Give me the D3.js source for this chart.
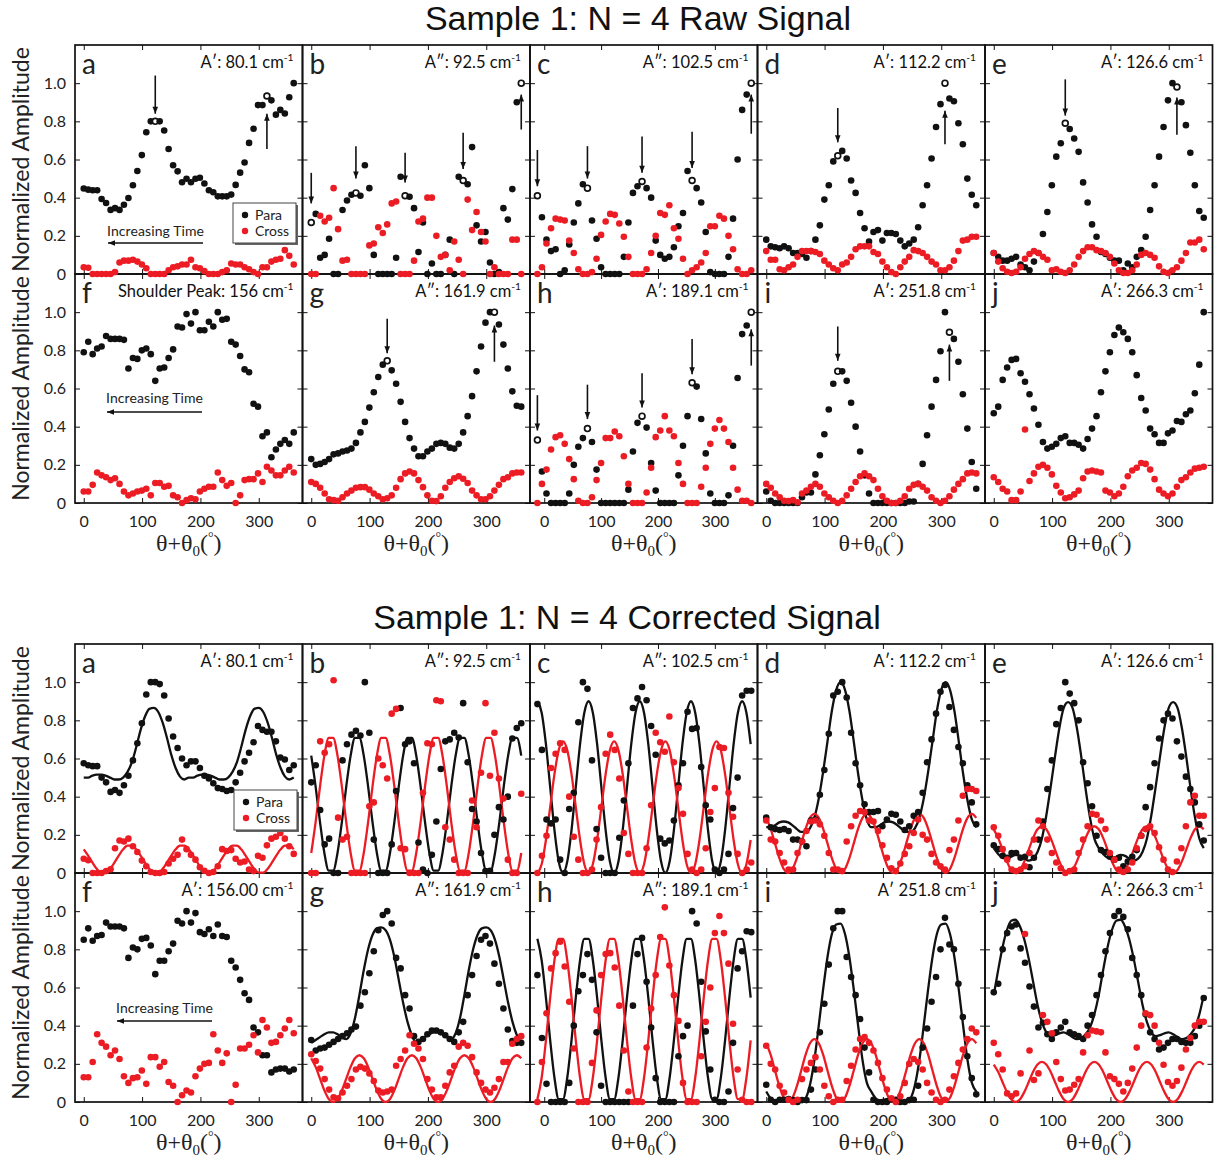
<!DOCTYPE html>
<html>
<head>
<meta charset="utf-8">
<script src="https://cdn.jsdelivr.net/npm/d3@7"></script>
<style>
body { margin: 0; background: #fff; }
</style>
</head>
<body>
<svg id="fig"></svg>
<script>
// angle grids (deg)
let ANGLES = [0,7.7,15.3,23,30.6,38.3,46,53.6,61.3,68.9,76.6,84.3,91.9,99.6,107.2,114.9,122.6,130.2,137.9,145.5,153.2,160.9,168.5,176.2,183.8,191.5,199.1,206.8,214.5,222.1,229.8,237.4,245.1,252.8,260.4,268.1,275.7,283.4,291.1,298.7,306.4,314,321.7,329.4,337,344.7,352.3,360]
let ANGLES_CH = [-12,-4,4,12,20,28,36,44,52,60,68,76,84,92,100,108,116,124,132,140,148,156,164,172,180,188,196,204,212,220,228,236,244,252,260,268,276,284,292,300,308,316,324,332,340,348,356,364]
let FIT_ANGLES = [0,7.5,15,22.5,30,37.5,45,52.5,60,67.5,75,82.5,90,97.5,105,112.5,120,127.5,135,142.5,150,157.5,165,172.5,180,187.5,195,202.5,210,217.5,225,232.5,240,247.5,255,262.5,270,277.5,285,292.5,300,307.5,315,322.5,330,337.5,345,352.5,360]
let FIT_ANGLES_CH = [-12,-4.5,3,10.5,18,25.5,33,40.5,48,55.5,63,70.5,78,85.5,93,100.5,108,115.5,123,130.5,138,145.5,153,160.5,168,175.5,183,190.5,198,205.5,213,220.5,228,235.5,243,250.5,258,265.5,273,280.5,288,295.5,303,310.5,318,325.5,333,340.5,348,355.5,363]

let letters = ["a","b","c","d","e","f","g","h","i","j"]
let raw_notes = ["A\u2032: 80.1 cm","A\u2033: 92.5 cm","A\u2033: 102.5 cm","A\u2032: 112.2 cm","A\u2032: 126.6 cm","Shoulder Peak: 156 cm","A\u2033: 161.9 cm","A\u2032: 189.1 cm","A\u2032: 251.8 cm","A\u2032: 266.3 cm"]
let cor_notes = ["A\u2032: 80.1 cm","A\u2033: 92.5 cm","A\u2033: 102.5 cm","A\u2032: 112.2 cm","A\u2032: 126.6 cm","A\u2032: 156.00 cm","A\u2033: 161.9 cm","A\u2033: 189.1 cm","A\u2032 251.8 cm","A\u2032: 266.3 cm"]
let x_ticks = [0,100,200,300]
let y_ticks = [0,0.2,0.4,0.6,0.8,1.0]

// ---------- raw signal ----------
let raw_a_para = [0.448,0.442,0.439,0.439,0.393,0.372,0.336,0.345,0.336,0.363,0.398,0.465,0.54,0.623,0.743,0.8,0.8,0.8,0.752,0.655,0.57,0.538,0.481,0.499,0.481,0.499,0.504,0.474,0.439,0.428,0.407,0.407,0.407,0.416,0.467,0.531,0.584,0.687,0.761,0.885,0.885,0.933,0.91,0.835,0.86,0.841,0.926,1.0]
let raw_a_cross = [0.035,0.033,0,0,0,0,0,0.01,0.06,0.07,0.07,0.075,0.065,0.05,0.03,0,0,0,0,0.02,0.035,0.04,0.05,0.05,0.075,0.035,0.03,0.015,0,0,0,0.01,0.02,0.055,0.05,0.05,0.035,0.025,0.01,0,0.035,0.035,0.065,0.075,0.08,0.125,0.095,0.05]
let raw_b_para = [0.27,0.315,0.085,0.10,0.185,0,0,0.335,0.385,0.415,0.425,0.41,0.57,0.45,0.10,0,0,0,0,0.085,0.51,0.41,0.405,0.345,0.115,0.27,0,0.055,0,0,0.10,0.18,0,0.51,0.49,0.47,0.665,0.255,0.17,0.22,0.06,0,0.01,0.345,0.285,0.445,0.9,1.0]
let raw_b_cross = [0,0,0.305,0.275,0.295,0.45,0.235,0.07,0.075,0,0,0,0,0.15,0.16,0.245,0.215,0.26,0.37,0.38,0,0,0,0.07,0.275,0.29,0.40,0.40,0.20,0.09,0.10,0.02,0.17,0.075,0,0.39,0.23,0.325,0.22,0.17,0,0.035,0,0,0,0.18,0.18,0]
let raw_c_para = [0.41,0.297,0.18,0.12,0.13,0,0.02,0.155,0.27,0.37,0.47,0.45,0.28,0.185,0.035,0,0,0,0,0.09,0.27,0.425,0.46,0.485,0.45,0.40,0.175,0.10,0.08,0.09,0.14,0.25,0.32,0.54,0.49,0.45,0.375,0.22,0.01,0,0,0,0.09,0.29,0.60,0.86,0.94,1.0]
let raw_c_cross = [0,0.035,0.16,0.24,0.29,0.285,0.28,0.175,0.11,0.025,0,0,0.01,0.08,0.205,0.275,0.315,0.31,0.265,0.195,0.09,0,0,0,0.025,0.11,0.20,0.32,0.31,0.36,0.24,0.185,0.08,0,0.02,0.035,0.06,0.11,0.25,0.25,0.305,0.29,0.20,0.13,0.025,0,0,0.02]
let raw_d_para = [0.18,0.145,0.14,0.135,0.145,0.135,0.11,0.11,0.105,0.085,0.12,0.18,0.255,0.39,0.465,0.59,0.62,0.645,0.605,0.49,0.425,0.32,0.24,0.17,0.22,0.23,0.175,0.215,0.215,0.21,0.175,0.145,0.16,0.18,0.245,0.36,0.465,0.605,0.77,0.89,1.0,0.92,0.905,0.79,0.68,0.50,0.415,0.36]
let raw_d_cross = [0.12,0.075,0.075,0.025,0.02,0.035,0.05,0.09,0.12,0.12,0.12,0.115,0.105,0.07,0.05,0.03,0.02,0.05,0.06,0.09,0.13,0.145,0.145,0.145,0.115,0.105,0.065,0.035,0.01,0,0.035,0.065,0.09,0.125,0.12,0.11,0.09,0.065,0.05,0.02,0.02,0.035,0.07,0.12,0.175,0.18,0.195,0.195]
let raw_e_para = [0.11,0.09,0.07,0.07,0.08,0.09,0.05,0.035,0.02,0.065,0.11,0.21,0.325,0.465,0.615,0.685,0.79,0.76,0.71,0.64,0.48,0.375,0.26,0.195,0.115,0.105,0.085,0.07,0.07,0.02,0.055,0.035,0.09,0.125,0.195,0.335,0.465,0.615,0.77,0.91,1.0,0.98,0.90,0.78,0.635,0.465,0.33,0.295]
let raw_e_cross = [0.11,0.065,0.03,0.012,0.005,0.012,0.035,0.08,0.105,0.12,0.11,0.09,0.075,0.02,0.025,0.012,0.005,0.02,0.05,0.09,0.12,0.14,0.14,0.125,0.12,0.11,0.09,0.055,0.02,0.005,0.005,0.02,0.05,0.10,0.11,0.10,0.085,0.04,0.012,0.005,0.02,0.035,0.07,0.11,0.165,0.165,0.18,0.13]
let raw_f_para = [0.79,0.845,0.78,0.81,0.82,0.875,0.86,0.86,0.86,0.855,0.705,0.76,0.755,0.80,0.81,0.78,0.64,0.705,0.71,0.76,0.805,0.925,0.92,0.99,0.94,1.0,0.905,0.905,0.95,0.925,1.0,0.96,0.965,0.845,0.83,0.77,0.70,0.685,0.52,0.505,0.35,0.37,0.24,0.28,0.31,0.33,0.31,0.37]
let raw_f_cross = [0.06,0.06,0.095,0.16,0.145,0.135,0.12,0.13,0.10,0.06,0.04,0.05,0.06,0.065,0.075,0.04,0.105,0.105,0.085,0.09,0.04,0.03,0,0.015,0.025,0.02,0.06,0.075,0.085,0.085,0.16,0.12,0.09,0.105,0,0.04,0.12,0.125,0.125,0.155,0.11,0.19,0.17,0.145,0.145,0.17,0.19,0.16]
let raw_g_para = [0.23,0.20,0.205,0.215,0.23,0.255,0.26,0.27,0.275,0.285,0.315,0.37,0.425,0.50,0.58,0.66,0.725,0.745,0.695,0.625,0.53,0.425,0.34,0.285,0.245,0.245,0.27,0.285,0.31,0.315,0.31,0.29,0.285,0.31,0.37,0.455,0.56,0.69,0.82,0.945,1.0,1.0,0.935,0.83,0.705,0.585,0.51,0.505]
let raw_g_cross = [0.11,0.10,0.08,0.05,0.02,0.015,0.012,0.03,0.05,0.065,0.08,0.083,0.083,0.07,0.05,0.035,0.02,0.025,0.04,0.08,0.125,0.155,0.165,0.155,0.12,0.083,0.04,0.012,0.01,0.035,0.08,0.11,0.13,0.14,0.127,0.105,0.065,0.04,0.02,0.02,0.035,0.065,0.095,0.125,0.135,0.155,0.16,0.16]
let raw_h_para = [0.33,0.165,0.05,0,0,0,0,0.05,0.20,0.295,0.34,0.39,0.32,0.175,0,0,0,0,0,0,0.07,0.27,0.42,0.455,0.395,0.21,0.065,0,0,0,0,0.145,0.30,0.455,0.63,0.61,0.44,0.26,0.05,0,0,0,0.04,0.30,0.655,0.885,0.93,1.0]
let raw_h_cross = [0,0.10,0.175,0.28,0.345,0.355,0.31,0.23,0.125,0.012,0,0,0.03,0.12,0.21,0.34,0.34,0.375,0.35,0.245,0.10,0,0,0,0.055,0.185,0.345,0.38,0.455,0.38,0.35,0.21,0.10,0,0,0,0.085,0.185,0.31,0.39,0.435,0.39,0.32,0.185,0.07,0.012,0.012,0]
let raw_i_para = [0.06,0.012,0,0,0,0,0,0,0.03,0.055,0.055,0.15,0.25,0.36,0.49,0.625,0.69,0.69,0.64,0.525,0.40,0.27,0.145,0.05,0,0,0,0,0,0,0,0,0.008,0.008,0.10,0.205,0.355,0.505,0.645,0.795,1.0,0.895,0.86,0.74,0.57,0.39,0.215,0.075]
let raw_i_cross = [0.10,0.08,0.05,0.03,0.012,0.01,0.015,0.004,0.05,0.065,0.085,0.10,0.085,0.05,0.03,0.012,0,0.012,0.04,0.075,0.11,0.14,0.155,0.14,0.12,0.075,0.035,0.012,0,0,0.012,0.035,0.075,0.095,0.10,0.085,0.065,0.03,0.012,0,0.012,0.035,0.07,0.10,0.125,0.155,0.16,0.155]
let raw_j_para = [0.47,0.505,0.645,0.71,0.75,0.755,0.68,0.635,0.57,0.495,0.41,0.32,0.285,0.295,0.31,0.34,0.35,0.315,0.315,0.305,0.285,0.335,0.39,0.455,0.58,0.69,0.79,0.88,0.92,0.895,0.86,0.79,0.67,0.55,0.485,0.39,0.36,0.315,0.315,0.365,0.38,0.43,0.425,0.465,0.485,0.575,0.725,1.0]
let raw_j_cross = [0.135,0.11,0.075,0.06,0.015,0.015,0.06,0.385,0.115,0.155,0.19,0.20,0.185,0.15,0.09,0.055,0.025,0.03,0.045,0.065,0.13,0.165,0.17,0.165,0.16,0.065,0.055,0.035,0.05,0.085,0.14,0.17,0.185,0.21,0.205,0.175,0.125,0.07,0.05,0.035,0.05,0.085,0.12,0.135,0.16,0.18,0.185,0.19]

// marked peaks (open circles) and arrows [point index, from, to]
let raw_open = [[16,41],[0,10,21,34,47],[0,11,23,34,47],[16,40],[16,41],[],[17,41],[0,11,23,34,47],[16,41],[]]
let raw_arrows = [
  [[16,1.04,0.84],[41,0.655,0.84]],
  [[0,0.53,0.37],[10,0.67,0.5],[21,0.635,0.48],[34,0.74,0.55],[47,0.757,0.94]],
  [[0,0.65,0.46],[11,0.67,0.5],[23,0.72,0.53],[34,0.745,0.555],[47,0.735,0.94]],
  [[16,0.87,0.69],[40,0.68,0.855]],
  [[16,1.02,0.83],[41,0.73,0.925]],
  [],
  [[17,0.965,0.785],[41,0.74,0.93]],
  [[0,0.565,0.38],[11,0.62,0.44],[23,0.68,0.5],[34,0.86,0.675],[47,0.72,0.91]],
  [[16,0.925,0.745],[41,0.64,0.83]],
  []
]

// ---------- corrected signal ----------
let cor_a_para = [0.575,0.565,0.56,0.56,0.50,0.475,0.425,0.435,0.42,0.46,0.51,0.59,0.68,0.785,0.935,1.0,1.0,0.99,0.93,0.81,0.715,0.655,0.60,0.565,0.585,0.585,0.55,0.51,0.495,0.47,0.445,0.44,0.43,0.435,0.475,0.525,0.585,0.63,0.685,0.77,0.75,0.74,0.74,0.69,0.605,0.595,0.54,0.565]
let cor_a_cross = [0.075,0.067,0,0,0,0.01,0.02,0.13,0.17,0.165,0.18,0.14,0.11,0.065,0.035,0.005,0,0,0.005,0.05,0.075,0.095,0.175,0.125,0.095,0.07,0.03,0.012,0,0.005,0.035,0.125,0.115,0.12,0.075,0.055,0.06,0.018,0.01,0.09,0.08,0.145,0.18,0.19,0.21,0.18,0.14,0.10]
let cor_b_para = [0.475,0.565,0.33,0.15,0.18,0,0,0.59,0.675,0.725,0.745,0.72,1.0,0.735,0.175,0,0,0,0.15,0.43,0.865,0.675,0.69,0.575,0.16,0.018,0,0.095,0.27,0.545,0.69,0.70,0.735,0.71,0.89,0.58,0.335,0.27,0.105,0.01,0.012,0.20,0.345,0.28,0.40,0.705,0.76,0.785]
let cor_b_cross = [0,0,0.69,0.63,0.675,1.01,0.29,0.175,0.19,0,0,0,0,0.35,0.37,0.60,0.565,0.495,0.835,0.86,0.13,0.125,0,0,0,0.42,0.68,0.675,0.905,0.90,0.24,0.175,0.07,0,0,0,0.38,0.24,0.525,0.89,0.51,0.735,0.495,0.39,0.07,0,0,0.415]
let cor_c_para = [0.885,0.645,0.28,0.26,0.28,0.07,0,0.335,0.42,0.79,1.0,0.965,0.59,0.23,0.08,0,0,0,0.185,0.38,0.575,0.865,0.915,0.975,0.905,0.77,0.62,0.18,0.155,0.17,0.275,0.46,0.575,0.845,0.755,0.76,0.555,0.355,0.28,0.018,0,0.018,0.10,0.34,0.50,0.93,0.955,0.955]
let cor_c_cross = [0,0.09,0.195,0.55,0.625,0.68,0.645,0.40,0.19,0.07,0,0,0.018,0.175,0.345,0.625,0.725,0.645,0.495,0.21,0.10,0,0,0,0.13,0.355,0.735,0.685,0.635,0.82,0.58,0.445,0.31,0.10,0.018,0,0.018,0.13,0.32,0.445,0.66,0.655,0.42,0.295,0.10,0,0.018,0.055]
let cor_d_para = [0.29,0.24,0.23,0.225,0.23,0.22,0.175,0.175,0.165,0.14,0.275,0.28,0.41,0.54,0.73,0.93,0.95,1.0,0.92,0.735,0.575,0.46,0.36,0.32,0.32,0.325,0.245,0.28,0.31,0.305,0.27,0.225,0.245,0.30,0.32,0.42,0.58,0.70,0.835,0.95,0.985,0.87,0.75,0.66,0.575,0.46,0.37,0.255]
let cor_d_cross = [0.275,0.175,0.165,0.105,0.055,0.018,0.018,0.105,0.165,0.22,0.27,0.275,0.255,0.195,0.105,0.018,0.018,0.01,0.165,0.245,0.30,0.325,0.32,0.275,0.27,0.22,0.145,0.08,0.025,0.01,0.05,0.10,0.14,0.21,0.28,0.20,0.175,0.10,0.055,0.035,0.018,0.12,0.175,0.275,0.405,0.44,0.44,0.43]
let cor_e_para = [0.145,0.125,0.09,0.08,0.105,0.105,0.08,0.085,0.03,0.08,0.175,0.27,0.44,0.59,0.78,0.865,1.0,0.94,0.89,0.80,0.58,0.47,0.35,0.195,0.12,0.11,0.085,0.07,0.08,0.035,0.06,0.085,0.12,0.195,0.345,0.45,0.575,0.705,0.80,0.835,0.81,0.69,0.61,0.505,0.44,0.37,0.255,0.17]
let cor_e_cross = [0.24,0.195,0.125,0.07,0.018,0.01,0.018,0.035,0.105,0.175,0.275,0.245,0.175,0.105,0.055,0.025,0,0.01,0.018,0.105,0.175,0.245,0.31,0.305,0.275,0.23,0.105,0.07,0.018,0.005,0.018,0.055,0.13,0.195,0.23,0.245,0.21,0.135,0.07,0.018,0.005,0.06,0.13,0.245,0.37,0.405,0.30,0.30]
let cor_f_para = [0.85,0.91,0.845,0.87,0.875,0.94,0.92,0.92,0.92,0.91,0.755,0.81,0.80,0.855,0.86,0.82,0.67,0.74,0.74,0.79,0.83,0.95,0.935,1.0,0.94,0.99,0.89,0.88,0.905,0.87,0.93,0.87,0.865,0.74,0.705,0.64,0.57,0.535,0.39,0.365,0.245,0.245,0.155,0.17,0.175,0.175,0.16,0.17]
let cor_f_cross = [0.13,0.13,0.21,0.355,0.31,0.29,0.245,0.27,0.225,0.135,0.10,0.125,0.13,0.165,0.095,0.235,0.235,0.185,0.21,0.105,0.085,0,0.035,0.06,0.05,0.135,0.175,0.20,0.205,0.355,0.27,0.205,0.255,0,0.09,0.28,0.28,0.30,0.35,0.26,0.43,0.39,0.31,0.315,0.35,0.385,0.43,0.36]
let cor_g_para = [0.325,0.27,0.28,0.285,0.30,0.315,0.33,0.345,0.36,0.38,0.395,0.505,0.575,0.675,0.79,0.90,0.98,1.0,0.935,0.755,0.70,0.56,0.49,0.345,0.315,0.33,0.355,0.375,0.375,0.365,0.35,0.33,0.315,0.365,0.42,0.56,0.665,0.765,0.85,0.87,0.83,0.725,0.62,0.49,0.38,0.32,0.31,0.31]
let cor_g_cross = [0.25,0.215,0.175,0.12,0.065,0.025,0.02,0.05,0.085,0.12,0.17,0.185,0.175,0.15,0.11,0.06,0.05,0.055,0.065,0.19,0.225,0.27,0.35,0.305,0.28,0.225,0.12,0.065,0.025,0.025,0.085,0.155,0.19,0.29,0.31,0.295,0.235,0.155,0.10,0.065,0.05,0.075,0.12,0.21,0.21,0.305,0.33,0.345]
let cor_h_para = [0.665,0.335,0.095,0,0,0,0,0.10,0.40,0.58,0.665,0.775,0.64,0.365,0.085,0,0,0,0,0,0,0.505,0.775,0.86,0.63,0.39,0.125,0,0,0,0,0.24,0.345,0.40,1.0,0.935,0.63,0.37,0.17,0.012,0,0,0.055,0.31,0.70,0.79,0.895,0.89]
let cor_h_cross = [0,0.21,0.465,0.70,0.78,0.84,0.71,0.525,0.28,0,0,0,0.205,0.48,0.665,0.775,0.78,0.705,0.505,0.27,0.055,0,0,0,0.285,0.49,0.665,0.865,1.02,0.715,0.56,0.425,0.10,0,0,0,0.24,0.42,0.60,0.885,0.975,0.885,0.725,0.41,0.17,0.012,0,0]
let cor_i_para = [0.09,0.012,0,0.012,0.012,0.015,0.01,0,0.01,0.01,0.065,0.17,0.365,0.515,0.72,0.91,1.0,1.0,0.76,0.655,0.56,0.435,0.285,0.155,0.012,0,0,0,0.015,0.012,0,0,0.01,0.012,0.085,0.285,0.385,0.525,0.655,0.80,0.965,0.825,0.80,0.62,0.445,0.24,0.125,0.04]
let cor_i_cross = [0.295,0.20,0.17,0.085,0.05,0.012,0,0.012,0.12,0.17,0.205,0.235,0.17,0.085,0.03,0,0.012,0.012,0.11,0.19,0.275,0.33,0.34,0.31,0.27,0.205,0.125,0.065,0.02,0,0.03,0.10,0.20,0.225,0.21,0.17,0.10,0.05,0.012,0,0.012,0.065,0.135,0.205,0.275,0.33,0.385,0.365]
let cor_j_para = [0.575,0.62,0.80,0.885,0.92,0.93,0.805,0.73,0.605,0.50,0.39,0.415,0.355,0.33,0.365,0.39,0.42,0.365,0.355,0.345,0.33,0.40,0.455,0.56,0.665,0.79,0.885,0.975,1.0,0.97,0.905,0.755,0.665,0.56,0.46,0.365,0.33,0.275,0.285,0.31,0.33,0.33,0.315,0.31,0.31,0.345,0.40,0.545]
let cor_j_cross = [0.31,0.25,0.17,0.045,0.03,0.045,0.15,0.88,0.27,0.115,0.15,0.455,0.42,0.36,0.21,0.12,0.06,0.065,0.09,0.12,0.26,0.35,0.375,0.37,0.365,0.26,0.135,0.12,0.095,0.055,0.10,0.175,0.285,0.40,0.465,0.455,0.40,0.31,0.195,0.105,0.085,0.11,0.18,0.275,0.335,0.40,0.42,0.42]

// fitted curves
let cor_a_fit_para = [0.50,0.50,0.51,0.515,0.515,0.51,0.50,0.49,0.49,0.50,0.53,0.58,0.66,0.75,0.82,0.86,0.865,0.845,0.79,0.71,0.62,0.55,0.505,0.49,0.50,0.50,0.51,0.515,0.515,0.51,0.50,0.49,0.49,0.50,0.53,0.58,0.66,0.75,0.82,0.86,0.865,0.845,0.79,0.71,0.62,0.55,0.505,0.49,0.50]
let cor_a_fit_cross = [0.124,0.091,0.054,0.021,0.002,0.002,0.021,0.054,0.091,0.124,0.143,0.143,0.124,0.091,0.054,0.021,0.002,0.002,0.021,0.054,0.091,0.124,0.143,0.143,0.124,0.091,0.054,0.021,0.002,0.002,0.021,0.054,0.091,0.124,0.143,0.143,0.124,0.091,0.054,0.021,0.002,0.002,0.021,0.054,0.091,0.124,0.143,0.143,0.124]
let cor_b_fit_para = [0.615,0.453,0.267,0.105,0.012,0.012,0.105,0.267,0.453,0.615,0.708,0.708,0.615,0.453,0.267,0.105,0.012,0.012,0.105,0.267,0.453,0.615,0.708,0.708,0.615,0.453,0.267,0.105,0.012,0.012,0.105,0.267,0.453,0.615,0.708,0.708,0.615,0.453,0.267,0.105,0.012,0.012,0.105,0.267,0.453,0.615,0.708,0.708,0.615]
let cor_b_fit_cross = [0.105,0.267,0.453,0.615,0.708,0.708,0.615,0.453,0.267,0.105,0.012,0.012,0.105,0.267,0.453,0.615,0.708,0.708,0.615,0.453,0.267,0.105,0.012,0.012,0.105,0.267,0.453,0.615,0.708,0.708,0.615,0.453,0.267,0.105,0.012,0.012,0.105,0.267,0.453,0.615,0.708,0.708,0.615,0.453,0.267,0.105,0.012,0.012,0.105]
let cor_c_fit_para = [0.90,0.84,0.675,0.45,0.225,0.06,0,0.06,0.225,0.45,0.675,0.84,0.90,0.84,0.675,0.45,0.225,0.06,0,0.06,0.225,0.45,0.675,0.84,0.90,0.84,0.675,0.45,0.225,0.06,0,0.06,0.225,0.45,0.675,0.84,0.90,0.84,0.675,0.45,0.225,0.06,0,0.06,0.225,0.45,0.675,0.84,0.90,0.84,0.675]
let cor_c_fit_cross = [0,0.046,0.173,0.345,0.518,0.644,0.69,0.644,0.518,0.345,0.173,0.046,0,0.046,0.173,0.345,0.518,0.644,0.69,0.644,0.518,0.345,0.173,0.046,0,0.046,0.173,0.345,0.518,0.644,0.69,0.644,0.518,0.345,0.173,0.046,0,0.046,0.173,0.345,0.518,0.644,0.69,0.644,0.518,0.345,0.173,0.046,0,0.046,0.173]
let cor_d_fit_para = [0.24,0.24,0.25,0.265,0.27,0.265,0.25,0.23,0.215,0.215,0.235,0.29,0.39,0.53,0.69,0.85,0.96,1.0,0.96,0.85,0.69,0.52,0.38,0.28,0.24,0.24,0.25,0.265,0.27,0.265,0.25,0.23,0.215,0.215,0.235,0.29,0.39,0.53,0.69,0.85,0.96,1.0,0.96,0.85,0.69,0.52,0.38,0.28,0.24]
let cor_d_fit_cross = [0.289,0.233,0.155,0.078,0.021,0,0.021,0.078,0.155,0.233,0.289,0.31,0.289,0.233,0.155,0.078,0.021,0,0.021,0.078,0.155,0.233,0.289,0.31,0.289,0.233,0.155,0.078,0.021,0,0.021,0.078,0.155,0.233,0.289,0.31,0.289,0.233,0.155,0.078,0.021,0,0.021,0.078,0.155,0.233,0.289,0.31,0.289]
let cor_e_fit_para = [0.13,0.10,0.08,0.075,0.085,0.095,0.09,0.075,0.065,0.075,0.11,0.18,0.30,0.45,0.61,0.76,0.865,0.895,0.865,0.76,0.61,0.44,0.29,0.18,0.13,0.10,0.08,0.075,0.085,0.095,0.09,0.075,0.065,0.075,0.11,0.18,0.30,0.45,0.61,0.76,0.865,0.895,0.865,0.76,0.61,0.44,0.29,0.18,0.13]
let cor_e_fit_cross = [0.229,0.184,0.123,0.061,0.016,0,0.016,0.061,0.123,0.184,0.229,0.245,0.229,0.184,0.123,0.061,0.016,0,0.016,0.061,0.123,0.184,0.229,0.245,0.229,0.184,0.123,0.061,0.016,0,0.016,0.061,0.123,0.184,0.229,0.245,0.229,0.184,0.123,0.061,0.016,0,0.016,0.061,0.123,0.184,0.229,0.245,0.229]
let cor_g_fit_para = [0.31,0.325,0.34,0.355,0.365,0.365,0.355,0.34,0.33,0.36,0.44,0.56,0.69,0.80,0.875,0.91,0.915,0.90,0.85,0.76,0.64,0.52,0.42,0.35,0.31,0.325,0.34,0.355,0.365,0.365,0.355,0.34,0.33,0.36,0.44,0.56,0.69,0.80,0.875,0.91,0.915,0.90,0.85,0.76,0.64,0.52,0.42,0.35,0.31]
let cor_g_fit_cross = [0.229,0.184,0.123,0.061,0.016,0,0.016,0.061,0.123,0.184,0.229,0.245,0.229,0.184,0.123,0.061,0.016,0,0.016,0.061,0.123,0.184,0.229,0.245,0.229,0.184,0.123,0.061,0.016,0,0.016,0.061,0.123,0.184,0.229,0.245,0.229,0.184,0.123,0.061,0.016,0,0.016,0.061,0.123,0.184,0.229,0.245,0.229]
let cor_h_fit_para = [0.855,0.743,0.547,0.323,0.127,0.015,0.015,0.127,0.323,0.547,0.743,0.855,0.855,0.743,0.547,0.323,0.127,0.015,0.015,0.127,0.323,0.547,0.743,0.855,0.855,0.743,0.547,0.323,0.127,0.015,0.015,0.127,0.323,0.547,0.743,0.855,0.855,0.743,0.547,0.323,0.127,0.015,0.015,0.127,0.323,0.547,0.743,0.855,0.855,0.743,0.547]
let cor_h_fit_cross = [0.015,0.127,0.323,0.547,0.743,0.855,0.855,0.743,0.547,0.323,0.127,0.015,0.015,0.127,0.323,0.547,0.743,0.855,0.855,0.743,0.547,0.323,0.127,0.015,0.015,0.127,0.323,0.547,0.743,0.855,0.855,0.743,0.547,0.323,0.127,0.015,0.015,0.127,0.323,0.547,0.743,0.855,0.855,0.743,0.547,0.323,0.127,0.015,0.015,0.127,0.323]
let cor_i_fit_para = [0.055,0.02,0.008,0.012,0.018,0.02,0.015,0.005,0.002,0.02,0.09,0.22,0.40,0.59,0.76,0.88,0.93,0.935,0.88,0.76,0.59,0.40,0.22,0.10,0.055,0.02,0.008,0.012,0.018,0.02,0.015,0.005,0.002,0.02,0.09,0.22,0.40,0.59,0.76,0.88,0.93,0.935,0.88,0.76,0.59,0.40,0.22,0.10,0.055]
let cor_i_fit_cross = [0.308,0.248,0.165,0.083,0.022,0,0.022,0.083,0.165,0.248,0.308,0.33,0.308,0.248,0.165,0.083,0.022,0,0.022,0.083,0.165,0.248,0.308,0.33,0.308,0.248,0.165,0.083,0.022,0,0.022,0.083,0.165,0.248,0.308,0.33,0.308,0.248,0.165,0.083,0.022,0,0.022,0.083,0.165,0.248,0.308,0.33,0.308]
let cor_j_fit_para = [0.56,0.69,0.81,0.90,0.95,0.955,0.92,0.85,0.75,0.63,0.51,0.42,0.365,0.345,0.35,0.36,0.365,0.355,0.34,0.33,0.335,0.355,0.39,0.46,0.56,0.69,0.81,0.90,0.95,0.955,0.92,0.85,0.75,0.63,0.51,0.42,0.365,0.345,0.35,0.36,0.365,0.355,0.34,0.33,0.335,0.355,0.39,0.46,0.56]
let cor_j_fit_cross = [0.196,0.158,0.105,0.053,0.014,0,0.014,0.053,0.105,0.158,0.196,0.21,0.196,0.158,0.105,0.053,0.014,0,0.014,0.053,0.105,0.158,0.196,0.21,0.196,0.158,0.105,0.053,0.014,0,0.014,0.053,0.105,0.158,0.196,0.21,0.196,0.158,0.105,0.053,0.014,0,0.014,0.053,0.105,0.158,0.196,0.21,0.196]

let raw_para = [raw_a_para,raw_b_para,raw_c_para,raw_d_para,raw_e_para,raw_f_para,raw_g_para,raw_h_para,raw_i_para,raw_j_para]
let raw_cross = [raw_a_cross,raw_b_cross,raw_c_cross,raw_d_cross,raw_e_cross,raw_f_cross,raw_g_cross,raw_h_cross,raw_i_cross,raw_j_cross]
let cor_para = [cor_a_para,cor_b_para,cor_c_para,cor_d_para,cor_e_para,cor_f_para,cor_g_para,cor_h_para,cor_i_para,cor_j_para]
let cor_cross = [cor_a_cross,cor_b_cross,cor_c_cross,cor_d_cross,cor_e_cross,cor_f_cross,cor_g_cross,cor_h_cross,cor_i_cross,cor_j_cross]
let cor_fit_para = [cor_a_fit_para,cor_b_fit_para,cor_c_fit_para,cor_d_fit_para,cor_e_fit_para,null,cor_g_fit_para,cor_h_fit_para,cor_i_fit_para,cor_j_fit_para]
let cor_fit_cross = [cor_a_fit_cross,cor_b_fit_cross,cor_c_fit_cross,cor_d_fit_cross,cor_e_fit_cross,null,cor_g_fit_cross,cor_h_fit_cross,cor_i_fit_cross,cor_j_fit_cross]

// ---------- drawing ----------
let BLACK = "#111"
let RED = "#ec1c24"
let SANS = "Lato, 'Open Sans', sans-serif"

let svg = d3.select('#fig')
    .attr('width', 1224)
    .attr('height', 1160)
    .attr('font-family', SANS)
svg.append('rect').attr('width', 1224).attr('height', 1160).attr('fill', '#fff')

let defs = svg.append('defs')
defs.append('marker')
    .attr('id', 'head')
    .attr('viewBox', '0 0 10 10')
    .attr('refX', 10).attr('refY', 5)
    .attr('markerWidth', 9).attr('markerHeight', 7)
    .attr('markerUnits', 'userSpaceOnUse')
    .attr('orient', 'auto')
    .append('path').attr('d', 'M0,1 L10,5 L0,9 Z').attr('fill', BLACK)

let col_x = [75, 302.5, 530, 757.5, 985]
let pw = 227.5
let ph = 229

let sections = [
    {title: "Sample 1: N = 4 Raw Signal", title_x: 638, title_y: 30, top: 45, notes: raw_notes, para: raw_para, cross: raw_cross,
     fit_para: null, fit_cross: null, open: raw_open, arrows: raw_arrows},
    {title: "Sample 1: N = 4 Corrected Signal", title_x: 627, title_y: 629, top: 644, notes: cor_notes, para: cor_para, cross: cor_cross,
     fit_para: cor_fit_para, fit_cross: cor_fit_cross, open: null, arrows: null}
]

let frame_g = svg.append('g')
let data_g = svg.append('g')
let text_g = svg.append('g')

function sup_text(g, x, y, str, size, anchor) {
    let t = g.append('text')
        .attr('x', x).attr('y', y)
        .attr('text-anchor', anchor)
        .attr('font-size', size)
        .attr('fill', BLACK)
    t.append('tspan').text(str)
    t.append('tspan').attr('dy', -size * 0.42).attr('font-size', size * 0.62).text('-1')
}

function theta_label(g, cx, y) {
    let t = g.append('text')
        .attr('x', cx).attr('y', y)
        .attr('text-anchor', 'middle')
        .attr('font-family', "'Liberation Serif', 'DejaVu Serif', serif")
        .attr('font-size', 24)
        .attr('fill', '#222')
    t.append('tspan').text('\u03b8+\u03b8')
    t.append('tspan').attr('dy', 5).attr('font-size', 15).text('0')
    t.append('tspan').attr('dy', -5).text('(')
    t.append('tspan').attr('dy', -9).attr('font-size', 14).text('\u00b0')
    t.append('tspan').attr('dy', 9).text(')')
}

function increasing_time(g, x1, x2, ty, ay) {
    g.append('text').attr('x', x1 - 1).attr('y', ty)
        .attr('font-size', 14).attr('fill', '#222')
        .attr('textLength', x2 - x1 + 2)
        .text('Increasing Time')
    g.append('line')
        .attr('x1', x2).attr('x2', x1)
        .attr('y1', ay).attr('y2', ay)
        .attr('stroke', BLACK).attr('stroke-width', 1.6)
        .attr('marker-end', 'url(#head)')
}

function legend(g, x0, y0) {
    g.append('rect').attr('x', x0 + 2).attr('y', y0 + 2).attr('width', 63).attr('height', 40).attr('fill', '#666')
    g.append('rect').attr('x', x0).attr('y', y0).attr('width', 63).attr('height', 40)
        .attr('fill', '#fff').attr('stroke', '#444').attr('stroke-width', 1)
    let items = [["Para", BLACK], ["Cross", RED]]
    items.forEach(function(d, k){
        g.append('circle').attr('cx', x0 + 12).attr('cy', y0 + 12 + k * 16).attr('r', 3.2).attr('fill', d[1])
        g.append('text').attr('x', x0 + 22).attr('y', y0 + 17 + k * 16).attr('font-size', 14).attr('fill', '#222').text(d[0])
    })
}

sections.forEach(function(sec, s){
    text_g.append('text')
        .attr('x', sec.title_x).attr('y', sec.title_y)
        .attr('text-anchor', 'middle')
        .attr('font-family', "'Liberation Sans', Arial, sans-serif")
        .attr('font-size', 34)
        .attr('fill', '#111')
        .text(sec.title)

    for (let r = 0; r < 2; r++) {
        text_g.append('text')
            .attr('transform', 'translate(29,' + (sec.top + r * ph + ph / 2) + ') rotate(-90)')
            .attr('text-anchor', 'middle')
            .attr('font-size', 23)
            .attr('fill', '#222')
            .text('Normalized Amplitude')
    }

    for (let i = 0; i < 10; i++) {
        let row = Math.floor(i / 5)
        let col = i % 5
        let x0 = col_x[col]
        let y0 = sec.top + row * ph
        let ch = (col == 2)
        let x = d3.scaleLinear().domain(ch ? [-25, 375] : [-15, 375]).range([x0, x0 + pw])
        let y = d3.scaleLinear().domain([0, 1.2]).range([y0 + ph, y0])
        let angles = ch ? ANGLES_CH : ANGLES
        let fit_angles = ch ? FIT_ANGLES_CH : FIT_ANGLES

        // frame and ticks
        let fg = frame_g.append('g')
        let style_axis = function(a){
            a.select('.domain').remove()
            a.attr('font-size', 16).attr('font-family', SANS)
            a.selectAll('line').attr('stroke', BLACK)
            a.selectAll('text').attr('fill', '#222')
        }
        fg.append('g').attr('transform', 'translate(0,' + (y0 + ph) + ')')
            .call(d3.axisBottom(x).tickValues(x_ticks).tickSizeInner(-5).tickSizeOuter(0).tickPadding(13)
                .tickFormat(row == 1 ? d3.format('d') : ''))
            .call(style_axis)
        fg.append('g').attr('transform', 'translate(0,' + y0 + ')')
            .call(d3.axisTop(x).tickValues(x_ticks).tickSizeInner(-5).tickSizeOuter(0).tickFormat(''))
            .call(style_axis)
        fg.append('g').attr('transform', 'translate(' + x0 + ',0)')
            .call(d3.axisLeft(y).tickValues(y_ticks).tickSizeInner(-5).tickSizeOuter(0).tickPadding(9)
                .tickFormat(col == 0 ? function(d){ return d == 0 ? '0' : d.toFixed(1) } : ''))
            .call(style_axis)
        fg.append('g').attr('transform', 'translate(' + (x0 + pw) + ',0)')
            .call(d3.axisRight(y).tickValues(y_ticks).tickSizeInner(-5).tickSizeOuter(0).tickFormat(''))
            .call(style_axis)
        fg.append('rect')
            .attr('x', x0).attr('y', y0).attr('width', pw).attr('height', ph)
            .attr('fill', 'none').attr('stroke', BLACK).attr('stroke-width', 1.7)

        if (row == 1) theta_label(text_g, x0 + pw / 2, sec.top + 2 * ph + 48)

        // data
        let dg = data_g.append('g')
        let clip_id = 'clip' + s + '_' + i
        defs.append('clipPath').attr('id', clip_id)
            .append('rect').attr('x', x0).attr('y', y0 - 2).attr('width', pw).attr('height', ph + 3)

        if (sec.fit_para && sec.fit_para[i]) {
            let line = d3.line()
                .x(function(d, k){ return x(fit_angles[k]) })
                .y(function(d){ return y(d) })
                .curve(d3.curveMonotoneX)
            dg.append('path').datum(sec.fit_para[i])
                .attr('d', line).attr('fill', 'none')
                .attr('stroke', BLACK).attr('stroke-width', 2.3)
                .attr('clip-path', 'url(#' + clip_id + ')')
            dg.append('path').datum(sec.fit_cross[i])
                .attr('d', line).attr('fill', 'none')
                .attr('stroke', RED).attr('stroke-width', 2.3)
                .attr('clip-path', 'url(#' + clip_id + ')')
        }

        let open = sec.open ? sec.open[i] : []
        dg.selectAll('circle.para')
            .data(sec.para[i])
            .enter()
            .append('circle')
            .attr('class', 'para')
            .attr('cx', function(d, k){ return x(angles[k]) })
            .attr('cy', function(d){ return y(d) })
            .attr('r', function(d, k){ return open.indexOf(k) >= 0 ? 2.9 : 3.3 })
            .attr('fill', function(d, k){ return open.indexOf(k) >= 0 ? '#fff' : BLACK })
            .attr('stroke', function(d, k){ return open.indexOf(k) >= 0 ? BLACK : 'none' })
            .attr('stroke-width', 1.7)
        dg.selectAll('circle.cross')
            .data(sec.cross[i])
            .enter()
            .append('circle')
            .attr('class', 'cross')
            .attr('cx', function(d, k){ return x(angles[k]) })
            .attr('cy', function(d){ return y(d) })
            .attr('r', 3.3)
            .attr('fill', RED)

        if (sec.arrows) {
            sec.arrows[i].forEach(function(a){
                dg.append('line')
                    .attr('x1', x(angles[a[0]])).attr('x2', x(angles[a[0]]))
                    .attr('y1', y(a[1])).attr('y2', y(a[2]))
                    .attr('stroke', BLACK).attr('stroke-width', 1.6)
                    .attr('marker-end', 'url(#head)')
            })
        }

        // labels
        text_g.append('text')
            .attr('x', x0 + 7).attr('y', y0 + 29)
            .attr('font-size', 28).attr('fill', '#222')
            .text(letters[i])
        sup_text(text_g, x0 + pw - 9, y0 + 23, sec.notes[i], 16.5, 'end')
    }
})

// legends and time arrows
legend(text_g, 233, 203)
legend(text_g, 234, 790)
increasing_time(text_g, 108, 203, 236, 243)
increasing_time(text_g, 107, 202, 403, 412)
increasing_time(text_g, 117, 212, 1013, 1021)
</script>
</body>
</html>
